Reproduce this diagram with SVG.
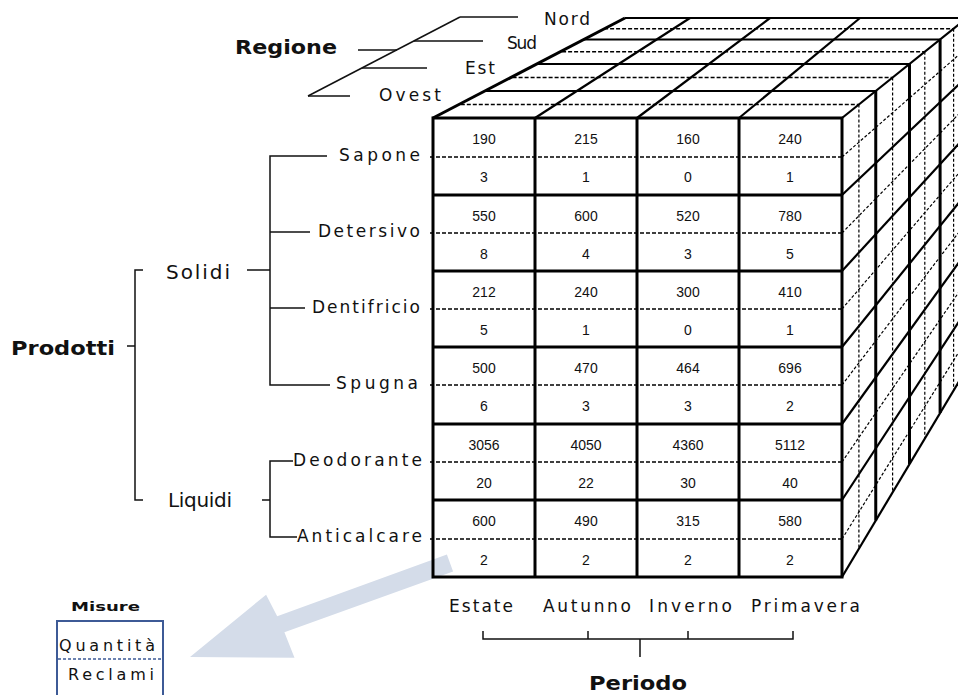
<svg xmlns="http://www.w3.org/2000/svg" width="958" height="695" viewBox="0 0 958 695">
<style>
.lbl{font-family:"DejaVu Sans","Liberation Sans",sans-serif;font-size:17px;fill:#111}
.big{font-family:"DejaVu Sans","Liberation Sans",sans-serif;font-size:20px;fill:#111}
.bold{font-family:"DejaVu Sans","Liberation Sans",sans-serif;font-size:19px;font-weight:bold;fill:#111}
.num{font-family:"Liberation Sans",Arial,sans-serif;font-size:14px;fill:#111;text-anchor:middle}
.thin{stroke:#111;stroke-width:1.5;fill:none}
.thick{stroke:#000;stroke-width:3;fill:none}
.med{stroke:#000;stroke-width:2.2;fill:none}
.dash{stroke:#000;stroke-width:1.4;stroke-dasharray:4 2;fill:none}
.rdash{stroke:#000;stroke-width:1.2;stroke-dasharray:3 2;fill:none}
</style>
<rect width="958" height="695" fill="#fff"/>

<!-- big arrow -->
<g id="arrow">
<polygon points="446.9,554.5 453.1,571.5 284.4,632.2 294.5,657.7 190,657 266.1,594.7 277.2,616.2" fill="#d4dce9"/>
</g>

<!-- cube -->
<g id="cube">
<g class="thick">
<line x1="875.75" y1="91" x2="875.75" y2="520.6"/>
<line x1="909.5" y1="64" x2="909.5" y2="464.1"/>
<line x1="940.1" y1="39.5" x2="940.1" y2="413"/>
</g>
<g class="rdash">
<line x1="858.9" y1="104.5" x2="858.9" y2="548.7"/>
<line x1="892.6" y1="77.5" x2="892.6" y2="492.4"/>
<line x1="924.8" y1="51.75" x2="924.8" y2="438.6"/>
<line x1="953.6" y1="28.75" x2="953.6" y2="390.4"/>
</g>
<g class="med">
<line x1="842" y1="195" x2="967" y2="76.7"/>
<line x1="842" y1="271" x2="967" y2="134.7"/>
<line x1="842" y1="347" x2="967" y2="192.6"/>
<line x1="842" y1="424" x2="967" y2="251.3"/>
<line x1="842" y1="500" x2="967" y2="309.3"/>
<line x1="842" y1="577" x2="967" y2="368"/>
<line x1="842" y1="118" x2="967" y2="18"/>
</g>
<g class="rdash">
<line x1="842" y1="157" x2="967" y2="47.7"/>
<line x1="842" y1="233" x2="967" y2="105.7"/>
<line x1="842" y1="309" x2="967" y2="163.6"/>
<line x1="842" y1="385" x2="967" y2="221.6"/>
<line x1="842" y1="462" x2="967" y2="280.3"/>
<line x1="842" y1="539" x2="967" y2="339"/>
</g>
<g class="med">
<line x1="485" y1="91" x2="875.75" y2="91"/>
<line x1="536.9" y1="64" x2="909.5" y2="64"/>
<line x1="583.9" y1="39.5" x2="940.1" y2="39.5"/>
<line x1="625" y1="18" x2="967" y2="18"/>
<line x1="535" y1="118" x2="690" y2="18"/>
<line x1="637" y1="118" x2="770" y2="18"/>
<line x1="739" y1="118" x2="860" y2="18"/>
</g>
<g class="dash">
<line x1="460.8" y1="104.5" x2="858.9" y2="104.5"/>
<line x1="512.6" y1="77.5" x2="892.6" y2="77.5"/>
<line x1="562.1" y1="51.75" x2="924.8" y2="51.75"/>
<line x1="604.1" y1="28.75" x2="953.6" y2="28.75"/>
</g>
<line class="thick" x1="433" y1="118" x2="625" y2="18"/>
<g class="dash">
<line x1="430" y1="157" x2="842" y2="157"/>
<line x1="430" y1="233" x2="842" y2="233"/>
<line x1="430" y1="309" x2="842" y2="309"/>
<line x1="430" y1="385" x2="842" y2="385"/>
<line x1="430" y1="462" x2="842" y2="462"/>
<line x1="430" y1="539" x2="842" y2="539"/>
</g>
<g class="thick">
<rect x="433" y="118" width="409" height="459"/>
<line x1="535" y1="118" x2="535" y2="577"/>
<line x1="637" y1="118" x2="637" y2="577"/>
<line x1="739" y1="118" x2="739" y2="577"/>
<line x1="433" y1="195" x2="842" y2="195"/>
<line x1="433" y1="271" x2="842" y2="271"/>
<line x1="433" y1="347" x2="842" y2="347"/>
<line x1="433" y1="424" x2="842" y2="424"/>
<line x1="433" y1="500" x2="842" y2="500"/>
</g>
<g class="num">
<text x="484" y="144">190</text><text x="586" y="144">215</text><text x="688" y="144">160</text><text x="790" y="144">240</text>
<text x="484" y="182">3</text><text x="586" y="182">1</text><text x="688" y="182">0</text><text x="790" y="182">1</text>
<text x="484" y="221">550</text><text x="586" y="221">600</text><text x="688" y="221">520</text><text x="790" y="221">780</text>
<text x="484" y="259">8</text><text x="586" y="259">4</text><text x="688" y="259">3</text><text x="790" y="259">5</text>
<text x="484" y="297">212</text><text x="586" y="297">240</text><text x="688" y="297">300</text><text x="790" y="297">410</text>
<text x="484" y="335">5</text><text x="586" y="335">1</text><text x="688" y="335">0</text><text x="790" y="335">1</text>
<text x="484" y="373">500</text><text x="586" y="373">470</text><text x="688" y="373">464</text><text x="790" y="373">696</text>
<text x="484" y="411">6</text><text x="586" y="411">3</text><text x="688" y="411">3</text><text x="790" y="411">2</text>
<text x="484" y="450">3056</text><text x="586" y="450">4050</text><text x="688" y="450">4360</text><text x="790" y="450">5112</text>
<text x="484" y="488">20</text><text x="586" y="488">22</text><text x="688" y="488">30</text><text x="790" y="488">40</text>
<text x="484" y="526">600</text><text x="586" y="526">490</text><text x="688" y="526">315</text><text x="790" y="526">580</text>
<text x="484" y="565">2</text><text x="586" y="565">2</text><text x="688" y="565">2</text><text x="790" y="565">2</text>
</g>
</g>

<!-- connectors -->
<g id="connectors" class="thin">
<line x1="308" y1="96" x2="460" y2="17"/>
<line x1="460" y1="17" x2="518" y2="17"/>
<line x1="414" y1="41" x2="483" y2="41"/>
<line x1="358" y1="50" x2="397" y2="50"/>
<line x1="362" y1="68" x2="427" y2="68"/>
<line x1="308" y1="96" x2="350" y2="96"/>
<path d="M143,270 H135 V500 H143"/>
<line x1="127" y1="346" x2="135" y2="346"/>
<line x1="247" y1="270" x2="270" y2="270"/>
<path d="M327,156 H270 V385 H330"/>
<line x1="270" y1="232" x2="310" y2="232"/>
<line x1="270" y1="308" x2="305" y2="308"/>
<line x1="262" y1="500" x2="270" y2="500"/>
<path d="M293,461 H270 V537 H297"/>
<path d="M483,631 V639 H793 V631"/>
<line x1="588" y1="631" x2="588" y2="639"/>
<line x1="688" y1="631" x2="688" y2="639"/>
<line x1="640" y1="639" x2="640" y2="657"/>
</g>

<!-- labels -->
<g id="regione">
<text class="bold" x="235" y="54" textLength="102" lengthAdjust="spacingAndGlyphs">Regione</text>
<text class="lbl" x="544" y="25" textLength="46" lengthAdjust="spacing">Nord</text>
<text class="lbl" x="507" y="49" textLength="30" lengthAdjust="spacing">Sud</text>
<text class="lbl" x="465" y="74" textLength="30" lengthAdjust="spacing">Est</text>
<text class="lbl" x="379" y="101" textLength="62" lengthAdjust="spacing">Ovest</text>
</g>
<g id="prodotti">
<text class="bold" x="11" y="355" textLength="104" lengthAdjust="spacingAndGlyphs">Prodotti</text>
<text class="big" x="166" y="279" textLength="64" lengthAdjust="spacing">Solidi</text>
<text class="big" x="168" y="507" textLength="64" lengthAdjust="spacing">Liquidi</text>
<text class="lbl" x="339" y="161" textLength="81" lengthAdjust="spacing">Sapone</text>
<text class="lbl" x="318" y="237" textLength="102" lengthAdjust="spacing">Detersivo</text>
<text class="lbl" x="312" y="313" textLength="108" lengthAdjust="spacing">Dentifricio</text>
<text class="lbl" x="336" y="389" textLength="82" lengthAdjust="spacing">Spugna</text>
<text class="lbl" x="293" y="466" textLength="129" lengthAdjust="spacing">Deodorante</text>
<text class="lbl" x="297" y="542" textLength="125" lengthAdjust="spacing">Anticalcare</text>
</g>
<g id="periodo">
<text class="lbl" x="449" y="612" textLength="64" lengthAdjust="spacing">Estate</text>
<text class="lbl" x="543" y="612" textLength="88" lengthAdjust="spacing">Autunno</text>
<text class="lbl" x="649" y="612" textLength="83" lengthAdjust="spacing">Inverno</text>
<text class="lbl" x="751" y="612" textLength="109" lengthAdjust="spacing">Primavera</text>
<text class="bold" x="589" y="690" textLength="98" lengthAdjust="spacingAndGlyphs">Periodo</text>
</g>
<g id="misure">
<text class="bold" x="71" y="611" style="font-size:13px" textLength="69" lengthAdjust="spacingAndGlyphs">Misure</text>
<rect x="57" y="621" width="106" height="80" fill="none" stroke="#3d5a96" stroke-width="2"/>
<line x1="58" y1="659" x2="162" y2="659" stroke="#3d5a96" stroke-width="1.3" stroke-dasharray="3 2"/>
<text class="lbl" x="59" y="651" style="font-size:16px" textLength="96" lengthAdjust="spacing">Quantità</text>
<text class="lbl" x="68" y="680" style="font-size:16px" textLength="86" lengthAdjust="spacing">Reclami</text>
</g>
</svg>
